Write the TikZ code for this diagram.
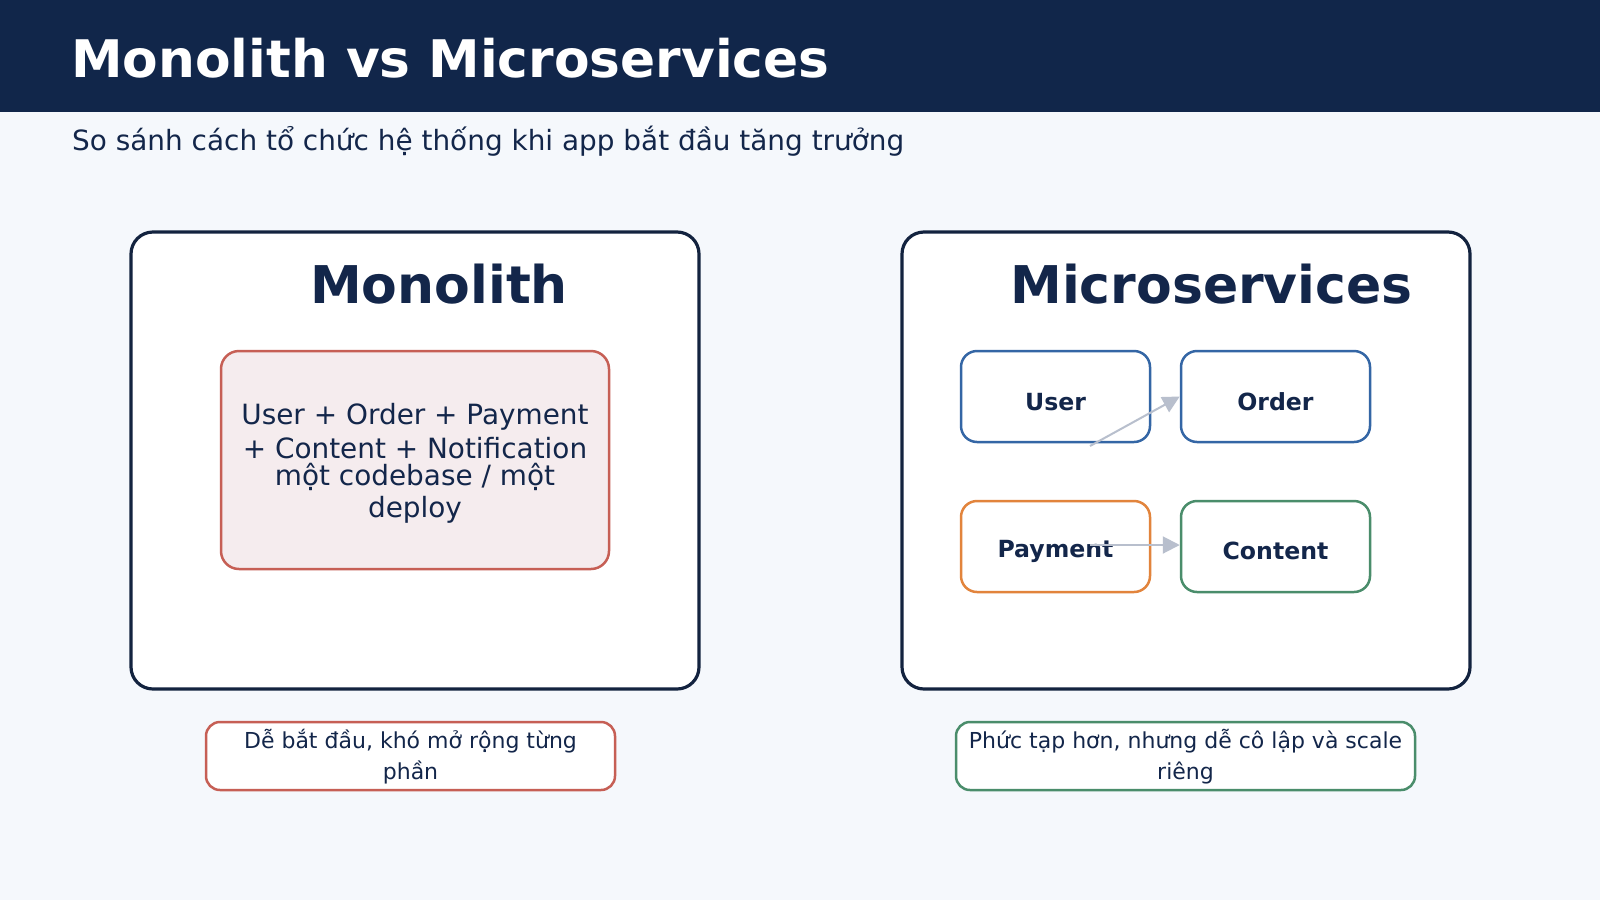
\documentclass[tikz,border=0pt]{standalone}
\usepackage{fontspec}
\setmainfont{DejaVu Sans}
\usetikzlibrary{arrows.meta}
\definecolor{bgc}{HTML}{F5F8FC}
\definecolor{headc}{HTML}{11264A}
\definecolor{navy}{HTML}{13264A}
\definecolor{panelc}{HTML}{13233F}
\definecolor{redc}{HTML}{C65F55}
\definecolor{pinkc}{HTML}{F5ECEE}
\definecolor{bluec}{HTML}{3466A5}
\definecolor{orangec}{HTML}{E2843C}
\definecolor{greenc}{HTML}{4A8D6B}
\definecolor{arrowc}{HTML}{B8BFCD}
\begin{document}
\begin{tikzpicture}[x=1pt,y=-1pt,
  panel/.style={draw=panelc, line width=3.2pt, fill=white, rounded corners=22pt,
    minimum width=568pt, minimum height=457pt, inner sep=0pt},
  mono/.style={draw=redc, line width=2.5pt, fill=pinkc, rounded corners=18pt,
    minimum width=388pt, minimum height=218pt, inner sep=0pt},
  svc/.style={draw=#1, line width=2.5pt, fill=white, rounded corners=16pt,
    minimum width=189pt, minimum height=91pt, inner sep=0pt},
  capbox/.style={draw=#1, line width=2.5pt, fill=white, rounded corners=14pt,
    minimum height=68pt, inner sep=0pt},
  ptitle/.style={anchor=base, text=navy, font=\fontsize{52}{60}\selectfont\bfseries},
  svclabel/.style={anchor=base, text=navy, font=\fontsize{23.6}{28}\selectfont\bfseries},
  monotext/.style={anchor=base, text=navy, font=\fontsize{27.9}{32}\selectfont},
  captext/.style={anchor=base, text=navy, font=\fontsize{22}{26}\selectfont},
  conn/.style={draw=arrowc, line width=2pt, -{Triangle[length=17pt,width=17pt]}}]
\useasboundingbox (0,0) rectangle (1600,900);
\fill[bgc] (0,0) rectangle (1600,900);
\fill[headc] (0,0) rectangle (1600,112);
\node[anchor=base west, inner sep=0pt, text=white, font=\fontsize{51.8}{60}\selectfont\bfseries] (title) at (71,77) {Monolith vs Microservices};
\node[anchor=base west, inner sep=0pt, text=navy, font=\fontsize{27.9}{32}\selectfont] (subtitle) at (72,150) {So sánh cách tổ chức hệ thống khi app bắt đầu tăng trưởng};

% left panel
\node[panel] (left) at (415,460.5) {};
\node[ptitle] (lt) at (439,303) {Monolith};
\node[mono] (monobox) at (415,460) {};
\node[monotext] (m1) at (415,424.5) {User + Order + Payment};
\node[monotext] (m2) at (415,458) {+ Content + Notification};
\node[monotext] (m3) at (415,485) {một codebase / một};
\node[monotext] (m4) at (415,517) {deploy};

% right panel
\node[panel] (right) at (1186,460.5) {};
\node[ptitle] (rt) at (1211.5,303) {Microservices};
\node[svc=bluec] (user) at (1055.5,396.5) {};
\node[svc=bluec] (order) at (1275.5,396.5) {};
\node[svc=orangec] (payment) at (1055.5,546.5) {};
\node[svc=greenc] (content) at (1275.5,546.5) {};
\node[svclabel] (userl) at (1055.5,410) {User};
\node[svclabel] (orderl) at (1275.5,410) {Order};
\node[svclabel] (paymentl) at (1055.5,557) {Payment};
\node[svclabel] (contentl) at (1275.5,559.5) {Content};
\coordinate (ua) at (1090,446);
\coordinate (pa) at (1090,545);
\draw[conn] (ua) -- (order.west);
\draw[conn] (pa) -- (pa -| content.west);

% captions
\node[capbox=redc, minimum width=409pt] (lcap) at (410.5,756) {};
\node[captext] (lc1) at (410.5,748) {Dễ bắt đầu, khó mở rộng từng};
\node[captext] (lc2) at (410.5,779) {phần};
\node[capbox=greenc, minimum width=459pt] (rcap) at (1185.5,756) {};
\node[captext] (rc1) at (1185.5,748) {Phức tạp hơn, nhưng dễ cô lập và scale};
\node[captext] (rc2) at (1185.5,779) {riêng};
\end{tikzpicture}
\end{document}
